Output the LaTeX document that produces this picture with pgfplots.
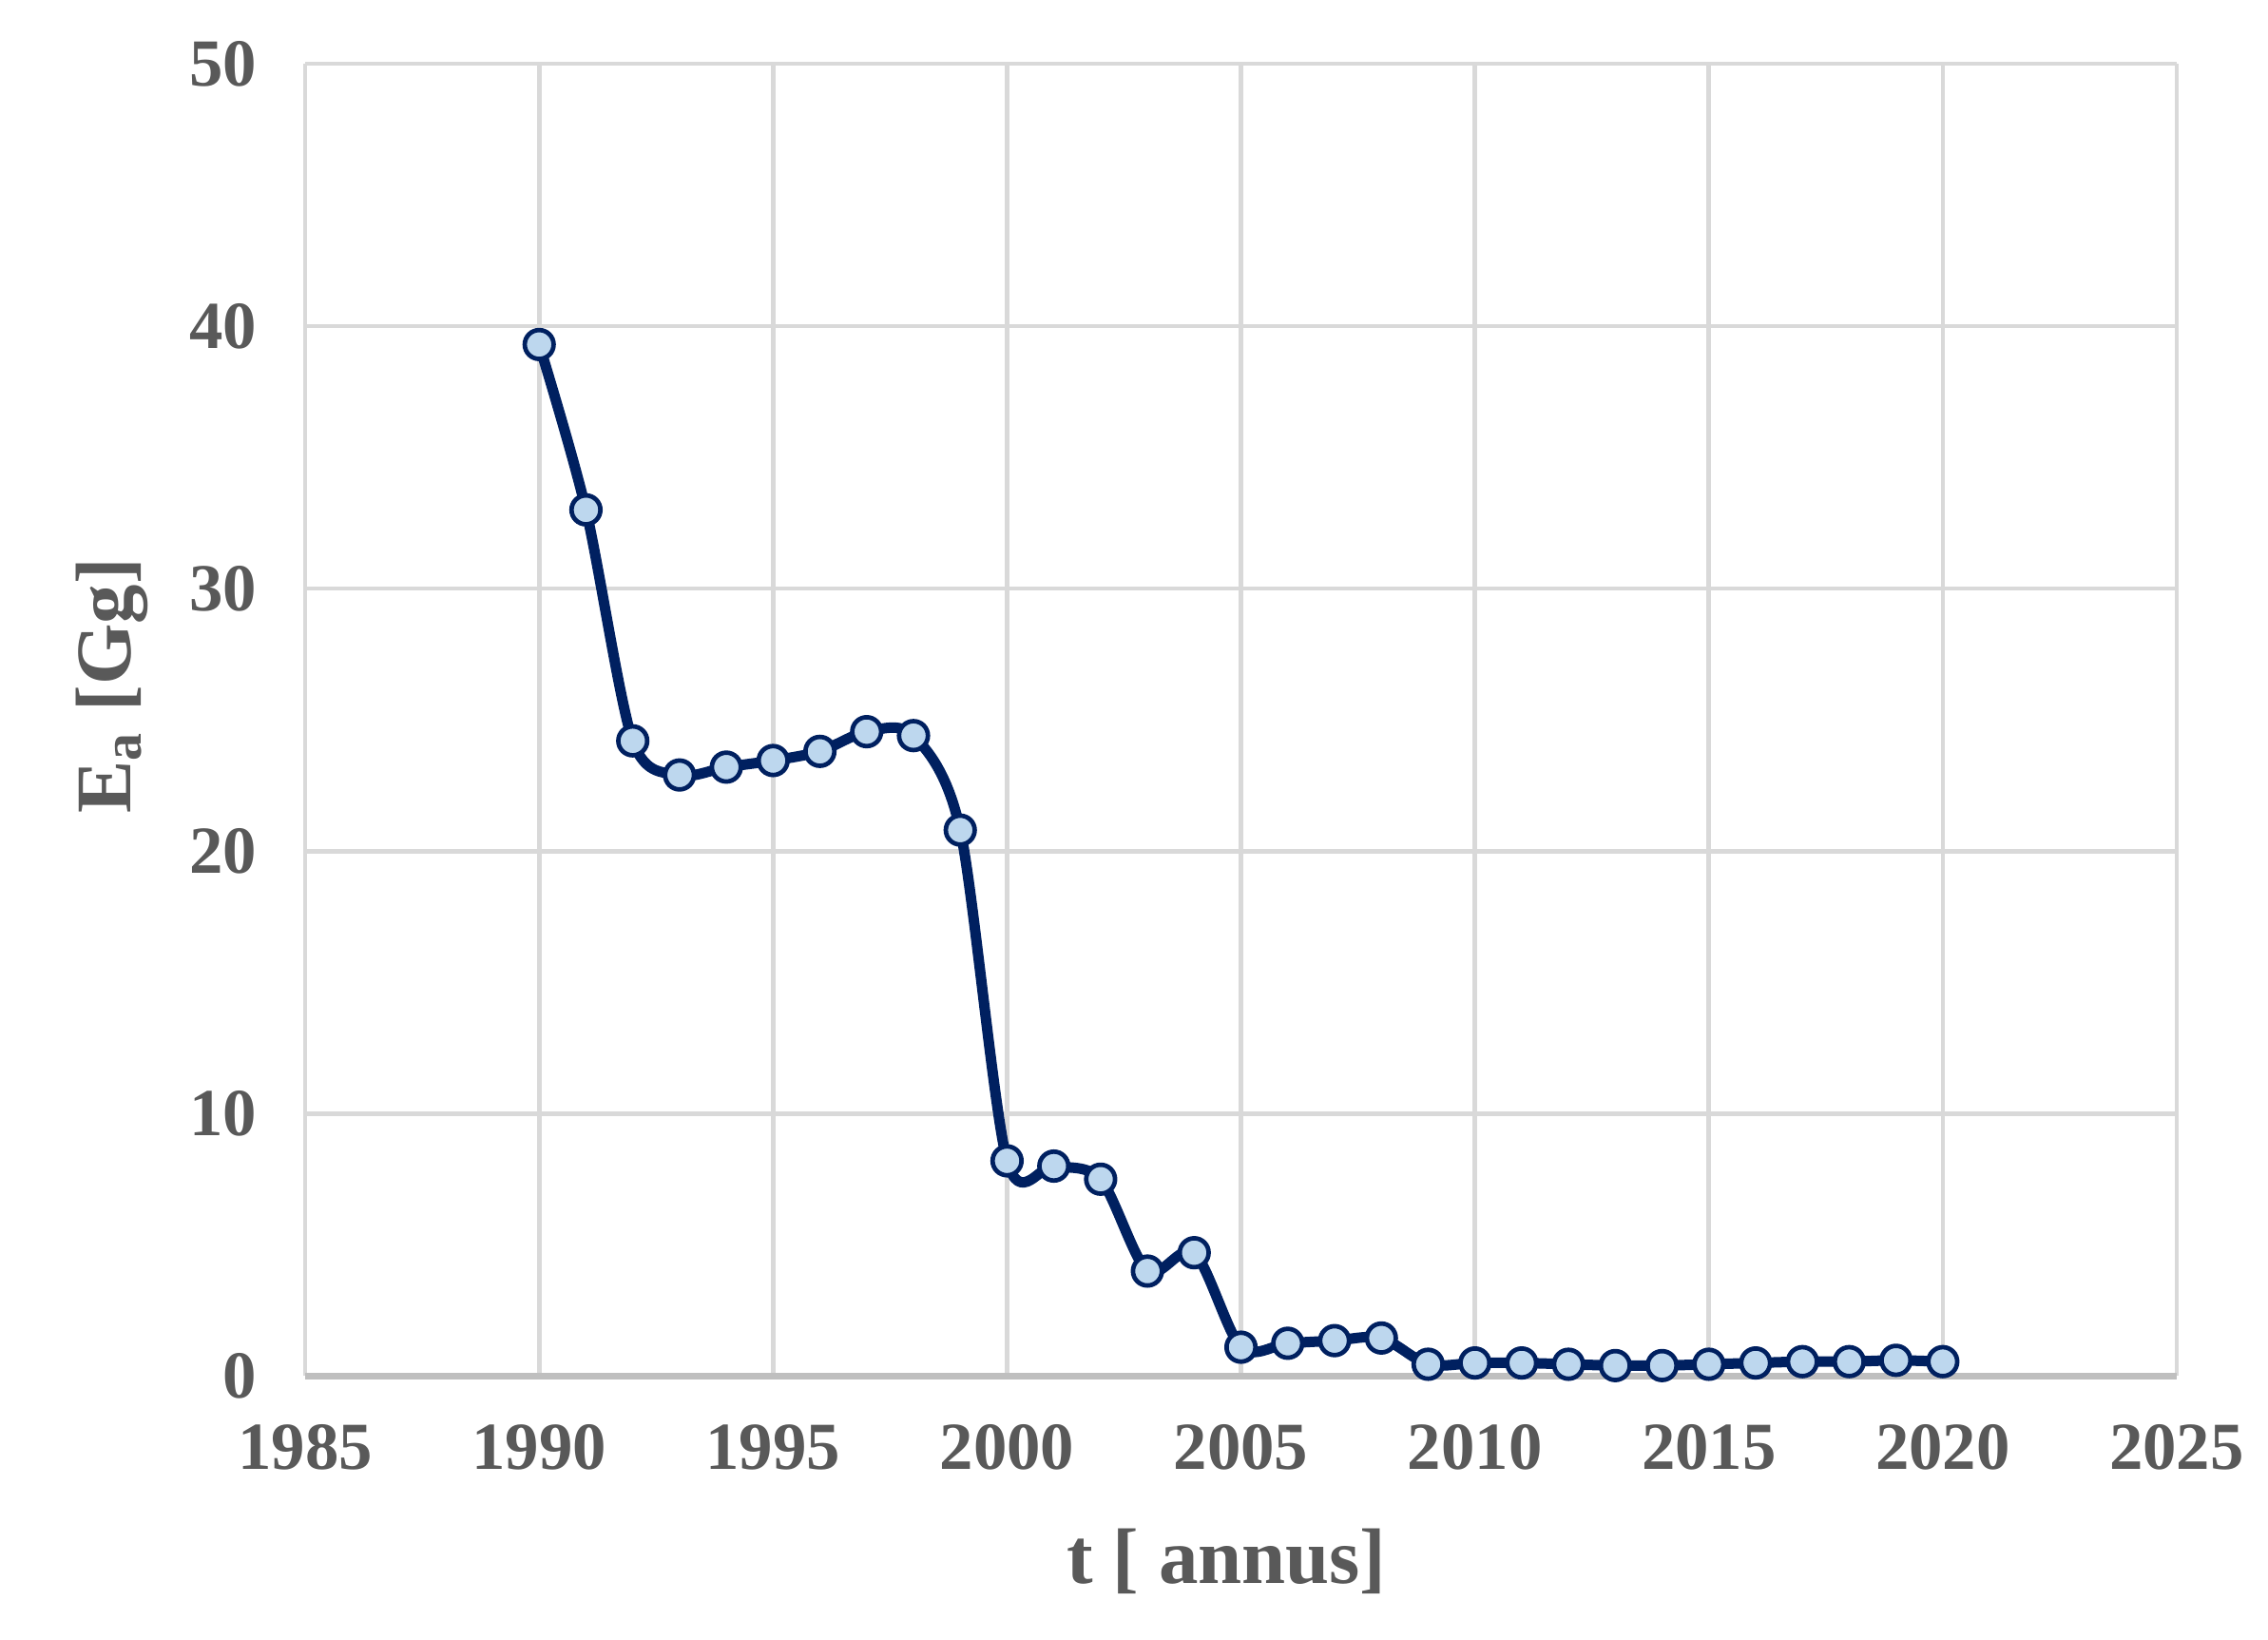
\documentclass[border=0pt]{standalone}
\usepackage{fontspec}
\setmainfont{Liberation Serif}
\usepackage{pgfplots}
\pgfplotsset{compat=1.18}
\definecolor{txt}{HTML}{595959}
\definecolor{gridc}{HTML}{D9D9D9}
\definecolor{axc}{HTML}{BFBFBF}
\definecolor{navy}{HTML}{002060}
\definecolor{mfill}{HTML}{BDD7EE}
\begin{document}
\begin{tikzpicture}
\begin{axis}[scale only axis,width=13.2cm,height=9.255cm,
  xmin=1985,xmax=2025,ymin=0,ymax=50,
  xtick={1985,1990,...,2025},ytick={0,10,...,50},
  major tick length=0pt,
  axis line style={draw=none},
  grid=major,grid style={gridc,line width=0.9pt},
  extra y ticks={0},extra y tick labels={},
  extra y tick style={grid style={axc,line width=1.4pt}},
  /pgf/number format/assume math mode=true,
  /pgf/number format/1000 sep={},
  tick label style={font=\fontsize{13.5}{15}\selectfont\bfseries,text=txt},
  xticklabel style={yshift=-0.22cm},
  yticklabel style={xshift=-0.22cm},
  label style={font=\fontsize{15.8}{18}\selectfont\bfseries,text=txt},
  xlabel={t [ annus]},
  ylabel={E\textsubscript{a} [Gg]},
  xlabel style={yshift=-0.17cm,xshift=-0.1cm},
  ylabel style={yshift=0.05cm,xshift=0.24cm},
  clip=false]
\addplot[navy,line width=2.1pt,smooth,mark=*,
  mark options={fill=mfill,draw=navy,line width=0.9pt},mark size=2.9pt]
  coordinates {
  (1990,39.3) (1991,33.0) (1992,24.2) (1993,22.9) (1994,23.2) (1995,23.45)
  (1996,23.8) (1997,24.55) (1998,24.4) (1999,20.8) (2000,8.2) (2001,8.0)
  (2002,7.5) (2003,4.0) (2004,4.7) (2005,1.1) (2006,1.25) (2007,1.35)
  (2008,1.45) (2009,0.45) (2010,0.5) (2011,0.5) (2012,0.45) (2013,0.4)
  (2014,0.4) (2015,0.45) (2016,0.5) (2017,0.55) (2018,0.55) (2019,0.6)
  (2020,0.55)};
\end{axis}
\path ([xshift=-2.153cm,yshift=-1.857cm]current axis.south west) rectangle ([xshift=0.644cm,yshift=0.449cm]current axis.north east);
\end{tikzpicture}
\end{document}
